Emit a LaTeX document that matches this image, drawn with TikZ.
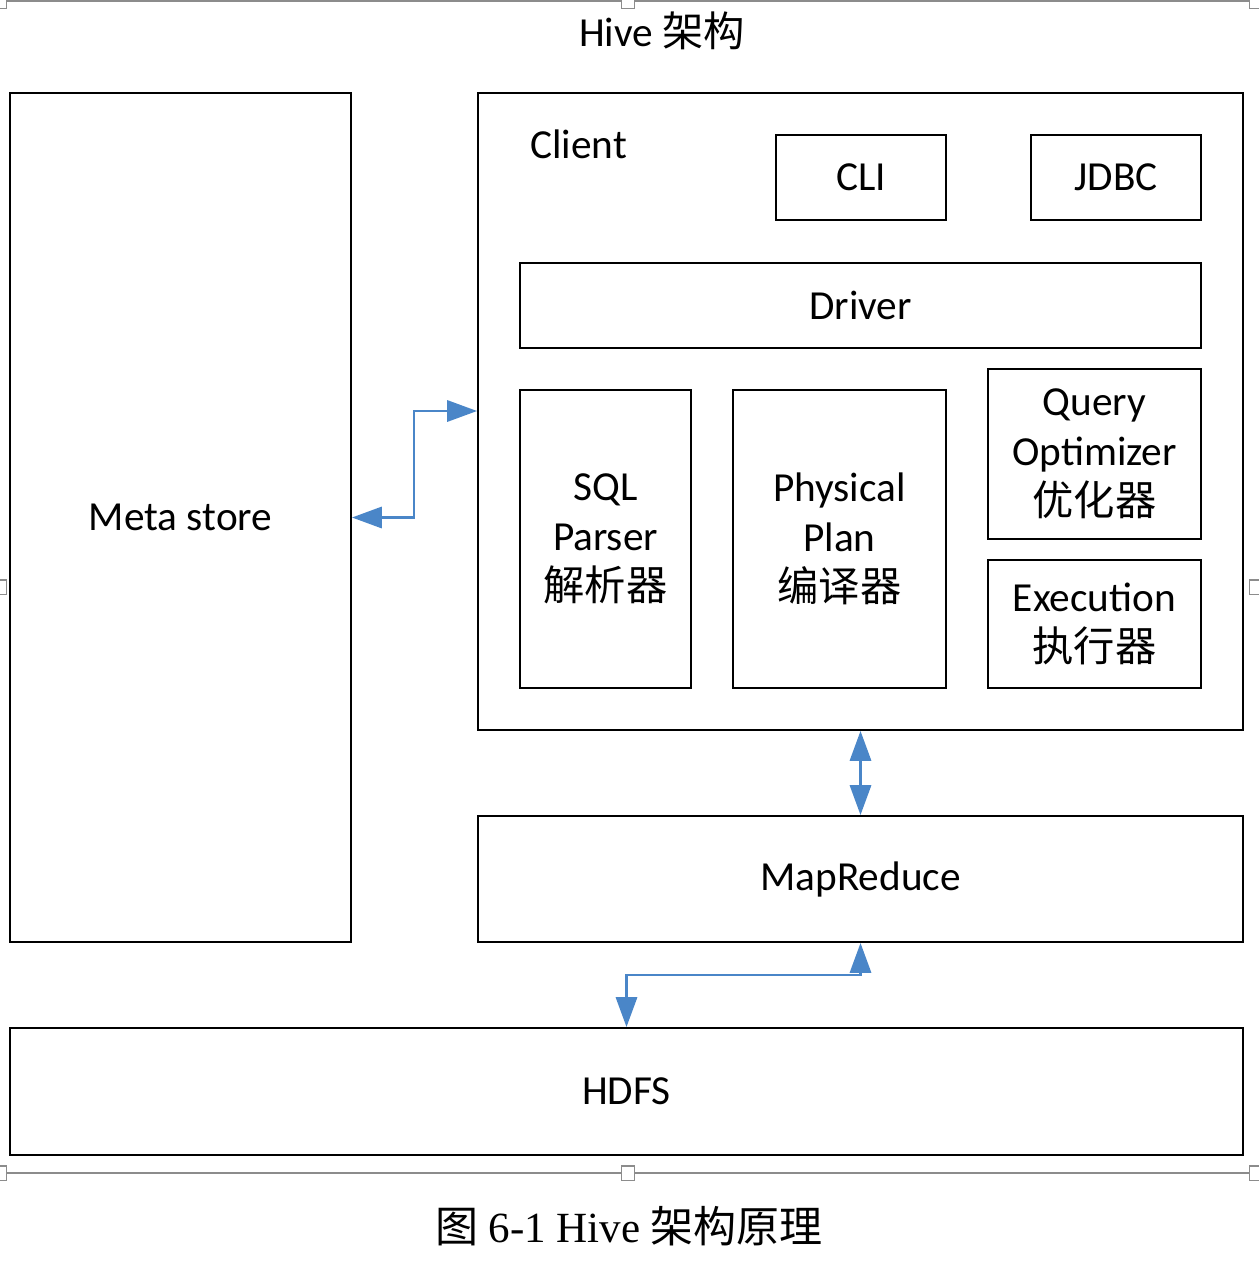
\documentclass[tikz,border=0pt]{standalone}
\usepackage{fontspec}
\setmainfont{Carlito}
\newfontfamily\cjk{Noto Sans CJK SC}
\newfontfamily\tms{Liberation Serif}
\usetikzlibrary{arrows.meta}
\definecolor{arrblue}{HTML}{4A86C8}
\definecolor{selgrey}{HTML}{8C8C8C}
\tikzset{
  boxst/.style={draw=black, line width=1.1pt, inner sep=0pt, align=center,
    font=\fontsize{23.5}{28.5}\selectfont},
  lbl/.style={inner sep=0pt, font=\fontsize{23.5}{28.5}\selectfont},
  biarrow/.style={draw=arrblue, line width=1.6pt,
    {Triangle[length=17pt,width=12pt]}-{Triangle[length=17pt,width=12pt]}},
  handle/.style={draw=selgrey, fill=white, line width=0.6pt,
    minimum width=7pt, minimum height=8pt, inner sep=0pt},
  selframe/.style={draw=selgrey, line width=0.8pt},
}
\newcommand{\bx}[6]{\node[boxst, minimum width={(#4-#2)*0.569055pt}, minimum height={(#5-#3)*0.569055pt}] (#1) at ({(#2+#4)/2},{(#3+#5)/2}) {#6};}
\begin{document}
\begin{tikzpicture}[x=0.02cm,y=-0.02cm]
\useasboundingbox (0,0) rectangle (1258,1268);
% selection frame (top and bottom edges visible)
\coordinate (fTL) at (0,1);
\coordinate (fTR) at (1258,1);
\coordinate (fBL) at (0,1173);
\coordinate (fBR) at (1258,1173);
\draw[selframe] (fTL) -- (fTR);
\draw[selframe] (fBL) -- (fBR);
\foreach \hx/\hy [count=\i] in {0.5/1, 628/1, 1256/1, 0.5/587, 1256/587, 0.5/1173, 628/1173, 1256/1173}
  \node[handle] (h\i) at (\hx,\hy) {};
% title
\node[lbl, anchor=base] (title) at (662,46) {Hive {\cjk 架构}};
% boxes
\bx{meta}{10}{93}{351}{942}{Meta store}
\bx{client}{478}{93}{1243}{730}{}
\node[lbl, anchor=base west] (clientlbl) at (530,158) {Client};
\bx{cli}{776}{135}{946}{220}{CLI}
\bx{jdbc}{1031}{135}{1201}{220}{JDBC}
\bx{driver}{520}{263}{1201}{348}{Driver}
\bx{sql}{520}{390}{691}{688}{SQL\\Parser\\{\cjk 解析器}}
\bx{phys}{733}{390}{946}{688}{Physical\\Plan\\{\cjk 编译器}}
\bx{opt}{988}{369}{1201}{539}{Query\\Optimizer\\{\cjk 优化器}}
\bx{exec}{988}{560}{1201}{688}{Execution\\{\cjk 执行器}}
\bx{mr}{478}{816}{1243}{942}{MapReduce}
\bx{hdfs}{10}{1028}{1243}{1155}{HDFS}
% connectors
\coordinate (bend1) at (414,517.5);
\draw[biarrow] (meta.east) -- (bend1) |- (client.west |- 0,411);
\draw[biarrow] (client.south) -- (mr.north);
\draw[biarrow] (mr.south) -- ++(0,32) -| (hdfs.north);
% caption
\node[inner sep=0pt, anchor=base, font=\fontsize{24.5}{28}\selectfont] (cap) at (629,1242)
  {{\cjk 图} {\tms 6-1 Hive} {\cjk 架构原理}};
\end{tikzpicture}
\end{document}
